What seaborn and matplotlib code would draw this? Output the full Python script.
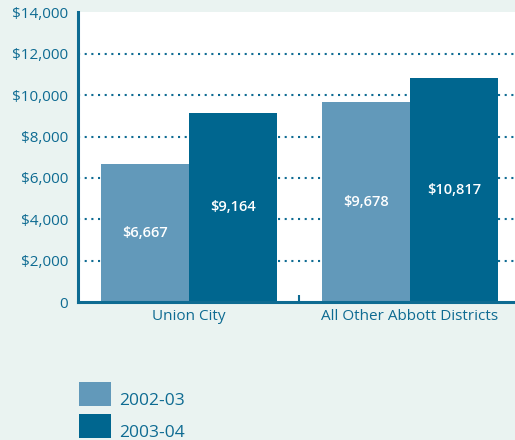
import numpy as np
import pandas as pd
import seaborn as sns
import matplotlib.pyplot as plt
from matplotlib.patches import Rectangle

# values
districts = ["Union City", "All Other Abbott Districts"]
years = ["2002-03", "2003-04"]
spend_0203 = [6667, 9678]
spend_0304 = [9164, 10817]

df = pd.DataFrame({
    "district": districts * 2,
    "year": [years[0]] * 2 + [years[1]] * 2,
    "spend": spend_0203 + spend_0304,
})

teal = "#0e6b92"
bg = "#eaf3f1"
colors = ["#6299ba", "#00668f"]
plt.rcParams["font.family"] = ["Open Sans", "DejaVu Sans"]

fig = plt.figure(figsize=(5.15, 4.4), dpi=100, facecolor=bg)
ax = fig.add_axes([78 / 515, 1 - 302 / 440, 1 - 78 / 515, (302 - 12.5) / 440])
ax.set_facecolor("white")

sns.barplot(data=df, x="district", y="spend", hue="year",
            palette=colors, width=0.8, linewidth=0,
            saturation=1, legend=False, ax=ax)

for c in ax.containers:
    ax.bar_label(c, labels=["${:,.0f}".format(v) for v in c.datavalues],
                 label_type="center", color="white", fontsize=10.5,
                 fontweight="semibold")

ax.set_ylim(0, 14000)
ax.set_xlim(-0.502, 1.475)
yt = np.arange(0, 14001, 2000)
ax.set_yticks(yt)
ax.set_yticklabels(["0"] + ["${:,}".format(v) for v in yt[1:]])
ax.tick_params(axis="y", length=0, pad=7, labelsize=11, labelcolor=teal)
ax.tick_params(axis="x", which="major", length=0, pad=5, labelsize=11, labelcolor=teal)
ax.set_xticks([0.5], minor=True)
ax.tick_params(axis="x", which="minor", direction="in", length=5, width=1.5, color=teal)

ax.set_axisbelow(True)
for v in yt[1:-1]:
    ax.axhline(v, color=teal, lw=1.5, ls=(0, (1, 2.2)), zorder=0)

for s in ["top", "right"]:
    ax.spines[s].set_visible(False)
for s in ["left", "bottom"]:
    ax.spines[s].set_color(teal)
    ax.spines[s].set_linewidth(2.2)

ax.set_xlabel("")
ax.set_ylabel("")

# legend drawn by hand below the chart
W, H = 515, 440
for i, (yr, col) in enumerate(zip(years, colors)):
    top = 382 + 32 * i
    fig.add_artist(Rectangle((79 / W, 1 - (top + 24) / H), 32 / W, 24 / H,
                             transform=fig.transFigure, color=col, lw=0))
    fig.text(119 / W, 1 - (top + 23) / H, yr, color=teal, fontsize=12.5,
             ha="left", va="baseline")

fig.savefig("out.png", dpi=100, facecolor=bg)
